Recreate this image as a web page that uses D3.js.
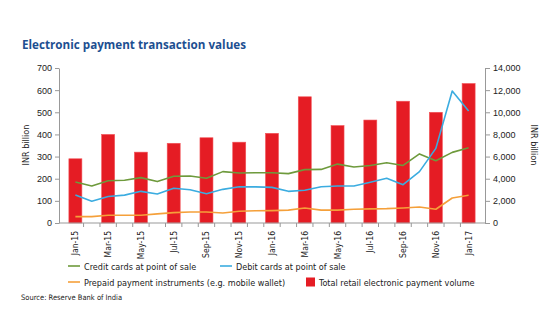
<!DOCTYPE html>
<head>
<script src="https://d3js.org/d3.v7.min.js"></script>
<style>
body { margin: 0; background: #fff; }
svg { font-family: "DejaVu Sans Condensed", "Liberation Sans Narrow", sans-serif; }
.title { font-family: "Open Sans", sans-serif; font-weight: bold; fill: #1d4f91; }
.axis path, .axis line { stroke: #999; }
.axis text { fill: #222; }
</style>
</head>
<body>
<svg id="chart" width="540" height="334"></svg>
<script>
// monthly labels Jan-15 .. Jan-17
var months = ["Jan-15","Feb-15","Mar-15","Apr-15","May-15","Jun-15","Jul-15","Aug-15","Sep-15","Oct-15","Nov-15","Dec-15",
  "Jan-16","Feb-16","Mar-16","Apr-16","May-16","Jun-16","Jul-16","Aug-16","Sep-16","Oct-16","Nov-16","Dec-16","Jan-17"];

// INR billion, left axis
var credit = [185,167,191,193,205,187,211,212,202,232,226,227,227,223,241,242,266,253,260,272,260,312,281,319,340];
var debit = [126,98,120,126,143,131,157,150,132,152,164,163,161,143,148,164,167,167,184,202,173,232,337,596,506];
var prepaid = [29,29,35,35,35,41,47,50,50,45,53,55,56,58,68,58,58,62,64,65,68,72,62,113,125];

// total retail electronic payment volume, right axis (every other month)
var barMonths = ["Jan-15","Mar-15","May-15","Jul-15","Sep-15","Nov-15","Jan-16","Mar-16","May-16","Jul-16","Sep-16","Nov-16","Jan-17"];
var total = [5800,8000,6400,7200,7700,7300,8100,11400,8800,9300,11000,10000,12600];

var leftTicks = [0,100,200,300,400,500,600,700];
var rightTicks = [0,2000,4000,6000,8000,10000,12000,14000];

var svg = d3.select("#chart");
var x0 = 59, x1 = 485, yTop = 68, yBot = 223;

var x = d3.scalePoint().domain(months).range([x0, x1]).padding(1);
var yL = d3.scaleLinear().domain([0, 700]).range([yBot, yTop]);
var yR = d3.scaleLinear().domain([0, 14000]).range([yBot, yTop]);

svg.append("text").attr("class", "title")
  .attr("x", 22).attr("y", 49).attr("font-size", 13)
  .attr("textLength", 224).attr("lengthAdjust", "spacingAndGlyphs")
  .text("Electronic payment transaction values");

// bars
svg.selectAll("rect.bar").data(barMonths).enter().append("rect")
  .attr("class", "bar")
  .attr("x", function(d) { return x(d) - 6.5; })
  .attr("width", 13)
  .attr("y", function(d, i) { return yR(total[i]); })
  .attr("height", function(d, i) { return yBot - yR(total[i]); })
  .attr("fill", "#e51c24")
  .attr("stroke", "#f2555a").attr("stroke-width", 0.6);

// lines
var series = [
  {values: credit, color: "#6e9a3c"},
  {values: debit, color: "#3bace0"},
  {values: prepaid, color: "#f5a03a"}
];
var line = d3.line()
  .x(function(d, i) { return x(months[i]); })
  .y(function(d) { return yL(d); });
series.forEach(function(s) {
  svg.append("path").datum(s.values)
    .attr("d", line)
    .attr("fill", "none")
    .attr("stroke", s.color)
    .attr("stroke-width", 1.6)
    .attr("stroke-linejoin", "round");
});

// left axis
var gl = svg.append("g").attr("class", "axis")
  .attr("transform", "translate(" + x0 + ",0)")
  .call(d3.axisLeft(yL).tickValues(leftTicks).tickSize(4).tickSizeOuter(0));
gl.selectAll("text").attr("font-size", 9).attr("x", -7);

// right axis
var gr = svg.append("g").attr("class", "axis")
  .attr("transform", "translate(" + x1 + ",0)")
  .call(d3.axisRight(yR).tickValues(rightTicks).tickSize(5).tickSizeOuter(0).tickFormat(d3.format(",")));
gr.selectAll("text").attr("font-size", 9).attr("x", 8);

// bottom axis
var step = x.step();
var gb = svg.append("g").attr("class", "axis")
  .attr("transform", "translate(0," + yBot + ")");
gb.append("line").attr("x1", x0).attr("x2", x1).attr("stroke", "#999");
gb.selectAll("line.tk").data(months.slice(1)).enter().append("line")
  .attr("class", "tk")
  .attr("x1", function(d) { return x(d) - step / 2; })
  .attr("x2", function(d) { return x(d) - step / 2; })
  .attr("y1", 0).attr("y2", 4).attr("stroke", "#999");
gb.selectAll("text").data(barMonths).enter().append("text")
  .attr("transform", function(d) { return "translate(" + (x(d) + 3) + ",8) rotate(-90)"; })
  .attr("text-anchor", "end")
  .attr("font-size", 8.5)
  .attr("fill", "#222")
  .text(function(d) { return d; });

// axis titles
svg.append("text").attr("transform", "translate(29,145) rotate(-90)")
  .attr("text-anchor", "middle").attr("font-size", 9).attr("fill", "#222")
  .text("INR billion");
svg.append("text").attr("transform", "translate(531,145) rotate(90)")
  .attr("text-anchor", "middle").attr("font-size", 9).attr("fill", "#222")
  .text("INR billion");

// legend
var legend = [
  {label: "Credit cards at point of sale", color: "#6e9a3c", type: "line", lx: 68, ly: 266},
  {label: "Debit cards at point of sale", color: "#3bace0", type: "line", lx: 220, ly: 266},
  {label: "Prepaid payment instruments (e.g. mobile wallet)", color: "#f5a03a", type: "line", lx: 68, ly: 282},
  {label: "Total retail electronic payment volume", color: "#e51c24", type: "rect", lx: 306, ly: 282}
];
legend.forEach(function(l) {
  if (l.type == "line") {
    svg.append("line").attr("x1", l.lx).attr("x2", l.lx + 12)
      .attr("y1", l.ly).attr("y2", l.ly)
      .attr("stroke", l.color).attr("stroke-width", 1.6);
    svg.append("text").attr("x", l.lx + 16).attr("y", l.ly + 3.5)
      .attr("font-size", 9).attr("fill", "#222").text(l.label);
  } else {
    svg.append("rect").attr("x", l.lx).attr("y", l.ly - 4.5)
      .attr("width", 9).attr("height", 9).attr("fill", l.color);
    svg.append("text").attr("x", l.lx + 13).attr("y", l.ly + 3.5)
      .attr("font-size", 9).attr("fill", "#222").text(l.label);
  }
});

svg.append("text").attr("x", 21).attr("y", 300)
  .attr("font-size", 7.5).attr("fill", "#222")
  .text("Source: Reserve Bank of India");
</script>
</body>
